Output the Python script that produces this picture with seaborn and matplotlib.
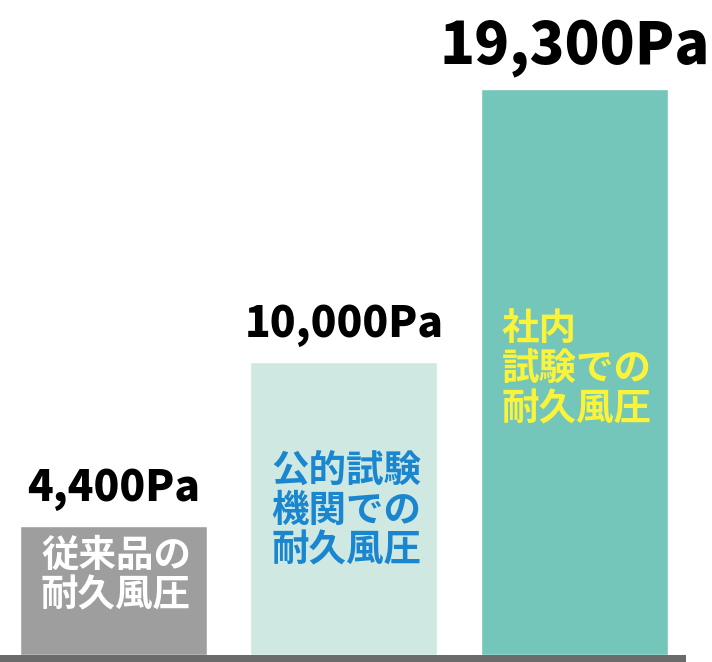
import matplotlib
matplotlib.use("Agg")
import matplotlib.pyplot as plt
import seaborn as sns
import pandas as pd
from matplotlib.patches import Rectangle

# ---- data ----
categories = ["従来品の\n耐久風圧", "公的試験\n機関での\n耐久風圧", "社内\n試験での\n耐久風圧"]
values = [4400, 10000, 19300]
value_labels = ["4,400Pa", "10,000Pa", "19,300Pa"]
bar_colors = ["#9e9e9e", "#cfe9e2", "#74c5ba"]
text_colors = ["#ffffff", "#1a86cf", "#f9f33b"]

sns.set_theme(style="white")
plt.rcParams['font.family'] = ['Noto Sans CJK JP', 'DejaVu Sans']

W, H = 712, 662
fig = plt.figure(figsize=(W / 100, H / 100), dpi=100)
ax = fig.add_axes([0, 7 / H, 686 / W, 655 / H])

df = pd.DataFrame({"cat": categories, "val": values})
sns.barplot(data=df, x="cat", y="val", hue="cat", palette=bar_colors,
            width=0.811, saturation=1, legend=False, ax=ax)

ax.set_xlim(-0.492, 2.484)
ax.set_ylim(0, 19300 * 655 / 566)
ax.set_axis_off()

# baseline
fig.add_artist(Rectangle((0, 0), 686 / W, 7 / H, transform=fig.transFigure,
                         color="#6b6b6b", lw=0))

# value labels above bars
label_sizes = [30.5, 30.5, 41.5]
for i, (v, lab) in enumerate(zip(values, value_labels)):
    ax.annotate(lab, (i, v), xytext=(0, 18), textcoords="offset points",
                ha="center", va="baseline", fontsize=label_sizes[i],
                fontweight=900, color="black")

# inner texts
inner_y = [0.122, 0.221, 0.437]
for i, (cat, col) in enumerate(zip(categories, text_colors)):
    ax.text(i - 0.4055 + 21 / 230.5, inner_y[i], cat,
            transform=ax.get_xaxis_transform(), ha="left", va="center",
            fontsize=27, fontweight="bold", color=col, linespacing=1.03)

fig.savefig("out.png", dpi=100)
